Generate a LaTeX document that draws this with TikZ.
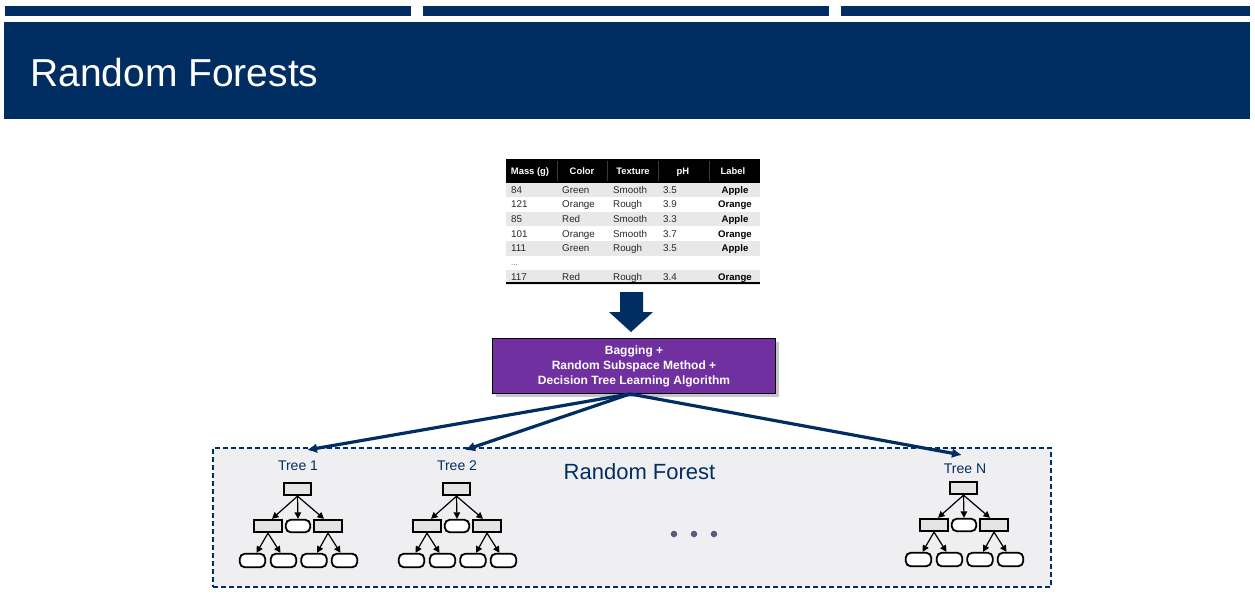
\documentclass[tikz,border=0pt]{standalone}
\usepackage{fontspec}
\setmainfont{Liberation Sans}
\usetikzlibrary{arrows.meta,shadows}
\definecolor{navy}{RGB}{0,46,98}
\definecolor{algopurple}{RGB}{112,48,160}
\definecolor{rowgray}{RGB}{232,232,232}
\definecolor{forestfill}{RGB}{239,239,242}
\definecolor{splitfill}{RGB}{228,228,228}
\definecolor{dotgray}{RGB}{92,92,122}
\definecolor{celltext}{RGB}{40,40,40}
\tikzset{
  fs/.style={font=\fontsize{#1}{#1}\selectfont},
  hdr/.style={text=white, font=\bfseries\fontsize{9.4}{9.4}\selectfont, anchor=base, inner sep=0},
  cell/.style={text=celltext, font=\fontsize{9.8}{9.8}\selectfont, anchor=base west, inner sep=0},
  lblcell/.style={text=black, font=\bfseries\fontsize{9.6}{9.6}\selectfont, anchor=base, inner sep=0},
  splitnode/.style={draw=black, line width=1.8pt, fill=splitfill, minimum width=27.5, minimum height=12.5, inner sep=0},
  leafnode/.style={draw=black, line width=1.8pt, fill=white, rounded corners=5pt, minimum width=25.5, minimum height=13.5, inner sep=0},
  treearrow/.style={draw=black, line width=1.2pt, -{Triangle[length=6.5pt,width=6.5pt]}},
  fanarrow/.style={draw=navy, line width=3.2pt, -{Latex[length=10pt,width=10pt]}},
  treelabel/.style={text=navy, font=\fontsize{14}{14}\selectfont, anchor=base, inner sep=0},
}
\begin{document}
\begin{tikzpicture}[x=1pt,y=-1pt]
\useasboundingbox (0,0) rectangle (1255,598);
\fill[white] (0,0) rectangle (1255,598);

% header strip and title band
\fill[navy] (5,6) rectangle (411,16);
\fill[navy] (423,6) rectangle (829,16);
\fill[navy] (841,6) rectangle (1250,16);
\fill[navy] (4,22) rectangle (1250,119);
\node[anchor=base west, text=white, fs=39, inner sep=0] (title) at (30,86) {Random Forests};

% data table
\fill[black] (506,159) rectangle (760,182.5);
\foreach \sx in {557,607,658,709}
  \draw[gray!45!black, line width=0.7pt] (\sx,161) -- (\sx,181);
\foreach \i in {1,3,5,7}{
  \pgfmathsetmacro\ytop{182.5+14.6*(\i-1)}
  \fill[rowgray] (506,\ytop) rectangle (760,\ytop+14.6);
}
\node[hdr] (h1) at (530,174.3) {Mass (g)};
\node[hdr] (h2) at (582,174.3) {Color};
\node[hdr] (h3) at (633,174.3) {Texture};
\node[hdr] (h4) at (683,174.3) {pH};
\node[hdr] (h5) at (733,174.3) {Label};
\foreach \i/\m/\c/\t/\p/\l in {1/84/Green/Smooth/3.5/Apple,
    2/121/Orange/Rough/3.9/Orange,
    3/85/Red/Smooth/3.3/Apple,
    4/101/Orange/Smooth/3.7/Orange,
    5/111/Green/Rough/3.5/Apple,
    7/117/Red/Rough/3.4/Orange}{
  \pgfmathsetmacro\yb{182.5+14.6*(\i-0.5)+3.5}
  \node[cell] (m\i) at (511,\yb) {\m};
  \node[cell] (c\i) at (562,\yb) {\c};
  \node[cell] (t\i) at (613,\yb) {\t};
  \node[cell] (p\i) at (663,\yb) {\p};
  \node[lblcell] (l\i) at (735,\yb) {\l};
}
\node[cell, text=gray!80!black, font=\fontsize{8}{8}\selectfont] (gap) at (511,265) {...};
\draw[black, line width=2.8pt] (506,283) -- (760,283);

% block arrow down to the algorithm box
\fill[navy] (620,292) -- (643,292) -- (643,312) -- (653,312) -- (631,332)
  -- (609,312) -- (620,312) -- cycle;

% algorithm box
\node[draw=black, line width=0.9pt, fill=algopurple, minimum width=283, minimum height=55,
  drop shadow={shadow xshift=3pt, shadow yshift=-3pt, fill=gray!45, opacity=1},
  text=white, font=\bfseries\fontsize{12}{15}\selectfont, align=center, inner sep=0]
  (algo) at (634,366) {Bagging +\\Random Subspace Method +\\Decision Tree Learning Algorithm};

% forest container
\node[draw=navy, dash pattern=on 5pt off 3pt, line width=2.2pt, fill=forestfill,
  minimum width=838, minimum height=139, inner sep=0] (forest) at (632,517.5) {};
\node[text=navy, fs=22, anchor=base, inner sep=0] (rf) at (639.5,479) {Random Forest};
\foreach \dx [count=\k] in {674,694,714}
  \fill[dotgray] (\dx,534) circle (3.3) node (dot\k) {};

% fan-out from the algorithm box to the trees
\coordinate (fan) at ([xshift=-4pt]algo.south);
\coordinate (in1) at (307,450);
\coordinate (in2) at (465,450);
\coordinate (inN) at (962,455);
\draw[fanarrow] (fan) -- (in1);
\draw[fanarrow] (fan) -- (in2);
\draw[fanarrow] (fan) -- (inN);

% the three drawn trees
\foreach \t/\cx/\ry/\lab/\lx/\ly in {ta/297.5/489/Tree 1/298/470.7,
    tb/456.5/489/Tree 2/457/470.7,
    tn/963.5/488/Tree N/965/473}{
  \node[treelabel] (\t-lab) at (\lx,\ly) {\lab};
  \node[splitnode] (\t-r) at (\cx,\ry) {};
  \node[splitnode] (\t-a) at (\cx-29.5,\ry+37) {};
  \node[leafnode, minimum width=24.5, minimum height=12.5] (\t-b) at (\cx+0.5,\ry+37) {};
  \node[splitnode] (\t-c) at (\cx+30.5,\ry+37) {};
  \node[leafnode] (\t-d) at (\cx-45,\ry+71.5) {};
  \node[leafnode] (\t-e) at (\cx-14,\ry+71.5) {};
  \node[leafnode] (\t-f) at (\cx+16.5,\ry+71.5) {};
  \node[leafnode] (\t-g) at (\cx+47,\ry+71.5) {};
  \draw[treearrow] (\t-r.south) -- ([xshift=4pt]\t-a.north);
  \draw[treearrow] (\t-r.south) -- (\t-b.north);
  \draw[treearrow] (\t-r.south) -- ([xshift=-4pt]\t-c.north);
  \draw[treearrow] (\t-a.south) -- ([xshift=4pt]\t-d.north);
  \draw[treearrow] (\t-a.south) -- ([xshift=-3pt]\t-e.north);
  \draw[treearrow] (\t-c.south) -- ([xshift=3pt]\t-f.north);
  \draw[treearrow] (\t-c.south) -- ([xshift=-4pt]\t-g.north);
}
\end{tikzpicture}
\end{document}
